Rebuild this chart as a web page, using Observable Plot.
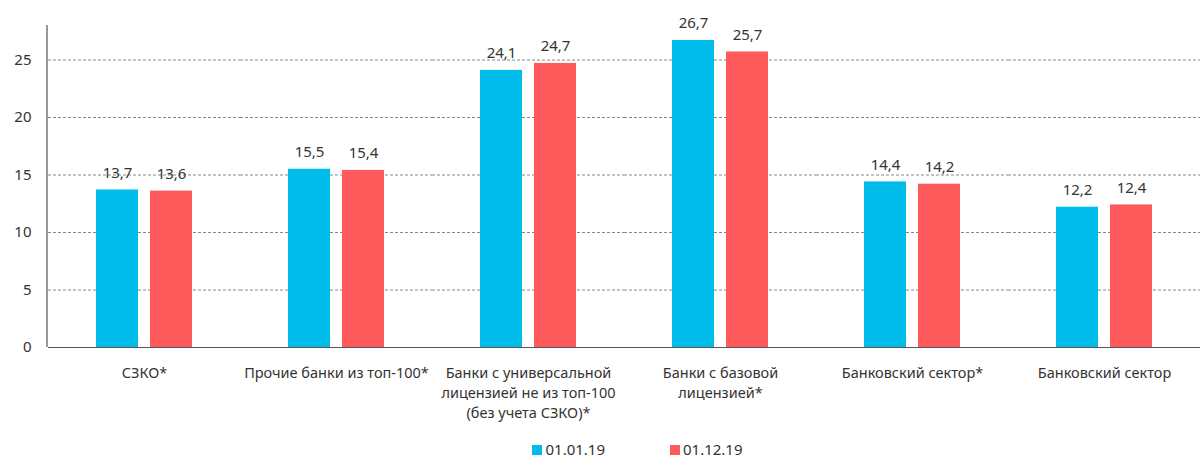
<!DOCTYPE html>
<html><head><meta charset="utf-8">
<script src="https://cdn.jsdelivr.net/npm/d3@7"></script>
<script src="https://cdn.jsdelivr.net/npm/@observablehq/plot@0.6"></script>
<style>
body{margin:0;background:#fff;font-family:"Noto Sans",sans-serif;}
#legend{display:flex;justify-content:center;gap:65px;font-size:15px;color:#333;margin-left:72px;height:42px;align-items:center}
#legend span.sw{display:inline-block;width:10px;height:10px;margin-right:3px;vertical-align:0px}
</style></head>
<body><div id="chart"></div><div id="legend"></div>
<script>
const categories = ["СЗКО*", "Прочие банки из топ-100*", "Банки с универсальной\nлицензией не из топ-100\n(без учета СЗКО)*", "Банки с базовой\nлицензией*", "Банковский сектор*", "Банковский сектор"];
const series = ["01.01.19", "01.12.19"];
const values0101 = [13.7, 15.5, 24.1, 26.7, 14.4, 12.2];
const values0112 = [13.6, 15.4, 24.7, 25.7, 14.2, 12.4];
const yTicks = [0, 5, 10, 15, 20, 25];
const colors = ["#00BCEB", "#FF5A5B"];

const data = [];
categories.forEach((c, i) => {
  data.push({cat: c, s: series[0], v: values0101[i]});
  data.push({cat: c, s: series[1], v: values0112[i]});
});
const fmt = v => v.toFixed(1).replace(".", ",");
const txt = "#333";

const plot = Plot.plot({
  width: 1203, height: 428,
  marginLeft: 47, marginRight: 3, marginTop: 25, marginBottom: 81,
  style: {fontFamily: "Noto Sans, sans-serif", fontSize: "14.5px", color: txt},
  fx: {domain: categories, padding: 0, axis: null},
  x: {domain: series, paddingInner: 0.218, paddingOuter: 0.855, axis: null},
  y: {domain: [0, 28], axis: null},
  color: {domain: series, range: colors},
  marks: [
    Plot.ruleY(yTicks.filter(d => d > 0), {stroke: "#888", strokeDasharray: "3,2", strokeWidth: 1}),
    Plot.barY(data, {fx: "cat", x: "s", y: "v", fill: "s"}),
    Plot.text(data, {fx: "cat", x: "s", y: "v", text: d => fmt(d.v), lineAnchor: "bottom", dy: -12, fontSize: 15, fill: txt}),
    Plot.ruleY([0], {stroke: "#555", strokeWidth: 1.2}),
    Plot.text(categories, {fx: d => d, text: d => d, frameAnchor: "bottom", lineAnchor: "top", dy: 16, lineHeight: 1.38, fontSize: 14.5, fill: txt}),
    Plot.axisY({ticks: yTicks, tickSize: 0, tickPadding: 17, fontSize: 15, fill: txt, label: null, anchor: "left"}),
  ]
});
document.getElementById("chart").append(plot);
const svg = d3.select(plot);
svg.append("line").attr("x1", 47).attr("x2", 47).attr("y1", 25).attr("y2", 347).attr("stroke", "#555").attr("stroke-width", 1.2);

const lg = document.getElementById("legend");
series.forEach((s, i) => {
  const d = document.createElement("div");
  d.innerHTML = `<span class="sw" style="background:${colors[i]}"></span>${s}`;
  lg.append(d);
});
</script></body></html>
